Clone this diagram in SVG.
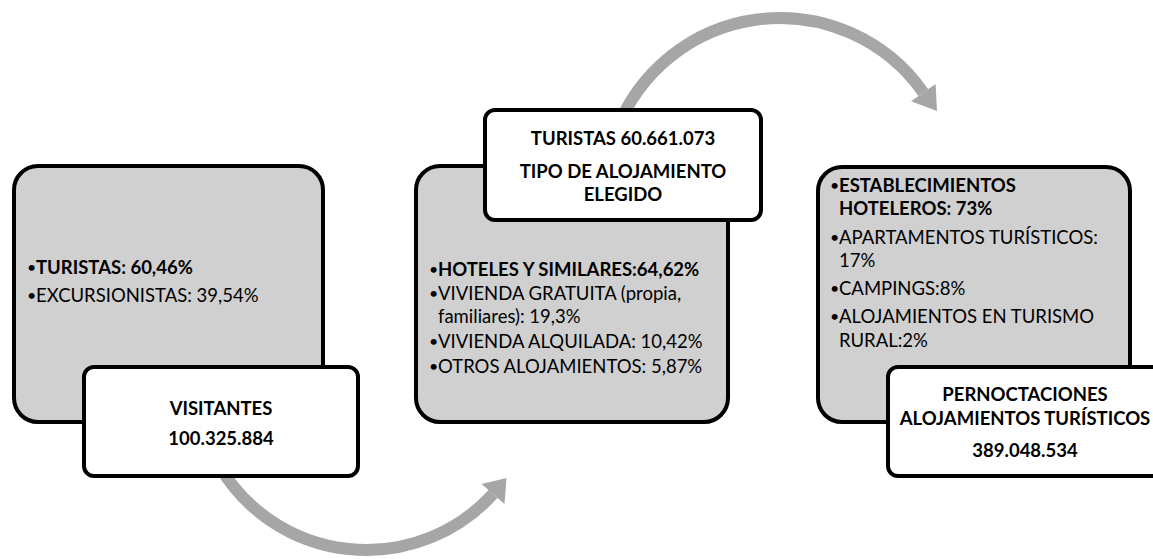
<svg xmlns="http://www.w3.org/2000/svg" width="1153" height="559" viewBox="0 0 1153 559">
  <style>
    .panel { fill: #d0d0d0; stroke: #000; stroke-width: 4; }
    .label { fill: #fff; stroke: #000; stroke-width: 4; }
    .arc { fill: none; stroke: #a6a6a6; stroke-width: 12; }
    .head { fill: #a6a6a6; }
    text { font-family: Lato, "Liberation Sans", sans-serif; font-size: 18.5px; fill: #000; }
    .b { font-weight: bold; }
    .c { text-anchor: middle; font-weight: bold; }
    .dot { font-size: 16px; }
  </style>

  <rect width="1153" height="559" fill="#fff"/>

  <!-- curved flow arrows, drawn beneath the boxes -->
  <g id="connectors">
    <path class="arc" d="M 219 465.5 A 171 171 0 0 0 493 494"/>
    <polygon class="head" points="481.5,484 504.5,504 506.5,478"/>
    <path class="arc" d="M 615.6 133 A 175 175 0 0 1 923.3 92.6"/>
    <polygon class="head" points="911,101.2 935.6,84 937,111"/>
  </g>

  <!-- step 1: visitors -->
  <g id="step1-detail">
    <rect class="panel" x="14" y="166" width="309" height="256" rx="24"/>
    <text x="27" y="273" class="dot">•</text>
    <text x="36" y="274" class="b">TURISTAS: 60,46%</text>
    <text x="27" y="301" class="dot">•</text>
    <text x="36" y="302">EXCURSIONISTAS: 39,54%</text>
  </g>
  <g id="step1-title">
    <rect class="label" x="84" y="367" width="274" height="109" rx="10"/>
    <text x="221" y="415" class="c">VISITANTES</text>
    <text x="221" y="445" class="c">100.325.884</text>
  </g>

  <!-- step 2: accommodation type -->
  <g id="step2-detail">
    <rect class="panel" x="416" y="166" width="312" height="256" rx="24"/>
    <text x="429" y="275" class="dot">•</text>
    <text x="438" y="276" class="b">HOTELES Y SIMILARES:64,62%</text>
    <text x="429" y="299" class="dot">•</text>
    <text x="438" y="300">VIVIENDA GRATUITA (propia,</text>
    <text x="438" y="323">familiares): 19,3%</text>
    <text x="429" y="347" class="dot">•</text>
    <text x="438" y="348">VIVIENDA ALQUILADA: 10,42%</text>
    <text x="429" y="372" class="dot">•</text>
    <text x="438" y="373">OTROS ALOJAMIENTOS: 5,87%</text>
  </g>
  <g id="step2-title">
    <rect class="label" x="485" y="110" width="276" height="110" rx="10"/>
    <text x="623" y="145" class="c">TURISTAS 60.661.073</text>
    <text x="623" y="178" class="c">TIPO DE ALOJAMIENTO</text>
    <text x="623" y="201" class="c">ELEGIDO</text>
  </g>

  <!-- step 3: overnight stays -->
  <g id="step3-detail">
    <rect class="panel" x="818" y="167" width="312" height="255" rx="24"/>
    <text x="830" y="191" class="dot">•</text>
    <text x="839" y="192" class="b">ESTABLECIMIENTOS</text>
    <text x="839" y="215" class="b">HOTELEROS: 73%</text>
    <text x="830" y="243" class="dot">•</text>
    <text x="839" y="244">APARTAMENTOS TURÍSTICOS:</text>
    <text x="839" y="267">17%</text>
    <text x="830" y="294" class="dot">•</text>
    <text x="839" y="295">CAMPINGS:8%</text>
    <text x="830" y="322" class="dot">•</text>
    <text x="839" y="323">ALOJAMIENTOS EN TURISMO</text>
    <text x="839" y="347">RURAL:2%</text>
  </g>
  <g id="step3-title">
    <rect class="label" x="888" y="367" width="274" height="109" rx="10"/>
    <text x="1025" y="401" class="c">PERNOCTACIONES</text>
    <text x="1025" y="425" class="c">ALOJAMIENTOS TURÍSTICOS</text>
    <text x="1025" y="457" class="c">389.048.534</text>
  </g>
</svg>
